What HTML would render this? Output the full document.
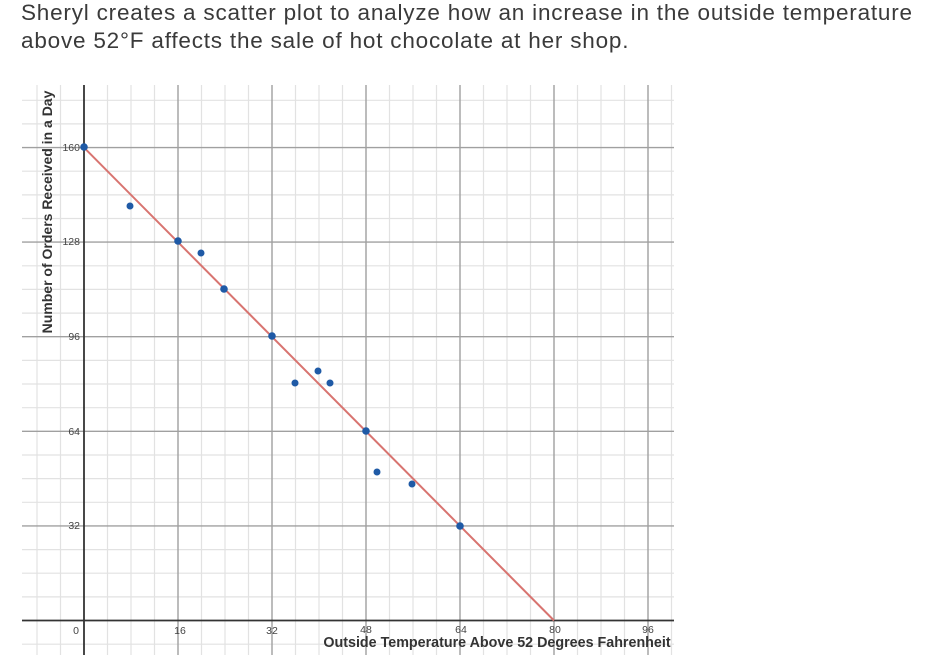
<!DOCTYPE html>
<html><head><meta charset="utf-8"><style>
body{margin:0;background:#fff;width:952px;height:658px;overflow:hidden;font-family:"Liberation Sans",sans-serif}
.t{position:absolute;left:21px;top:-1px;font-size:22.5px;color:#3a3a3a;line-height:28px;letter-spacing:0.8px}
svg{position:absolute;left:0;top:0}
</style></head><body>
<div class="t">Sheryl creates a scatter plot to analyze how an increase in the outside temperature<br>above 52°F affects the sale of hot chocolate at her shop.</div>
<svg width="952" height="658" xmlns="http://www.w3.org/2000/svg">
<g stroke="#e2e2e2" stroke-width="1.2">
<line x1="37" y1="85" x2="37" y2="655"/><line x1="60.5" y1="85" x2="60.5" y2="655"/>
<line x1="107.5" y1="85" x2="107.5" y2="655"/><line x1="131" y1="85" x2="131" y2="655"/><line x1="154.5" y1="85" x2="154.5" y2="655"/>
<line x1="201.5" y1="85" x2="201.5" y2="655"/><line x1="225" y1="85" x2="225" y2="655"/><line x1="248.5" y1="85" x2="248.5" y2="655"/>
<line x1="295.5" y1="85" x2="295.5" y2="655"/><line x1="319" y1="85" x2="319" y2="655"/><line x1="342.5" y1="85" x2="342.5" y2="655"/>
<line x1="389.5" y1="85" x2="389.5" y2="655"/><line x1="413" y1="85" x2="413" y2="655"/><line x1="436.5" y1="85" x2="436.5" y2="655"/>
<line x1="483.5" y1="85" x2="483.5" y2="655"/><line x1="507" y1="85" x2="507" y2="655"/><line x1="530.5" y1="85" x2="530.5" y2="655"/>
<line x1="577.5" y1="85" x2="577.5" y2="655"/><line x1="601" y1="85" x2="601" y2="655"/><line x1="624.5" y1="85" x2="624.5" y2="655"/>
<line x1="671.5" y1="85" x2="671.5" y2="655"/>
<line x1="22" y1="100.3" x2="674" y2="100.3"/><line x1="22" y1="123.9" x2="674" y2="123.9"/>
<line x1="22" y1="171.2" x2="674" y2="171.2"/><line x1="22" y1="194.9" x2="674" y2="194.9"/><line x1="22" y1="218.5" x2="674" y2="218.5"/>
<line x1="22" y1="265.8" x2="674" y2="265.8"/><line x1="22" y1="289.4" x2="674" y2="289.4"/><line x1="22" y1="313.1" x2="674" y2="313.1"/>
<line x1="22" y1="360.4" x2="674" y2="360.4"/><line x1="22" y1="384" x2="674" y2="384"/><line x1="22" y1="407.7" x2="674" y2="407.7"/>
<line x1="22" y1="455" x2="674" y2="455"/><line x1="22" y1="478.6" x2="674" y2="478.6"/><line x1="22" y1="502.3" x2="674" y2="502.3"/>
<line x1="22" y1="549.6" x2="674" y2="549.6"/><line x1="22" y1="573.2" x2="674" y2="573.2"/><line x1="22" y1="596.9" x2="674" y2="596.9"/>
<line x1="22" y1="644.2" x2="674" y2="644.2"/>
</g>
<g stroke="#a0a0a0" stroke-width="1.4">
<line x1="178" y1="85" x2="178" y2="655"/><line x1="272" y1="85" x2="272" y2="655"/><line x1="366" y1="85" x2="366" y2="655"/>
<line x1="460" y1="85" x2="460" y2="655"/><line x1="554" y1="85" x2="554" y2="655"/><line x1="648" y1="85" x2="648" y2="655"/>
<line x1="22" y1="147.6" x2="674" y2="147.6"/><line x1="22" y1="242.1" x2="674" y2="242.1"/><line x1="22" y1="336.7" x2="674" y2="336.7"/>
<line x1="22" y1="431.3" x2="674" y2="431.3"/><line x1="22" y1="525.9" x2="674" y2="525.9"/>
</g>
<g stroke="#333" stroke-width="1.8">
<line x1="84" y1="85" x2="84" y2="655"/><line x1="22" y1="620.5" x2="674" y2="620.5"/>
</g>
<line x1="84" y1="147.6" x2="554" y2="620.5" stroke="#d87470" stroke-width="2"/>
<g fill="#1f5aa6">
<circle cx="84" cy="147" r="3.8"/><circle cx="130" cy="206" r="3.5"/><circle cx="178" cy="241" r="3.8"/><circle cx="201" cy="253" r="3.5"/>
<circle cx="224" cy="289" r="3.8"/><circle cx="272" cy="336" r="3.8"/><circle cx="295" cy="383" r="3.5"/><circle cx="318" cy="371" r="3.5"/>
<circle cx="330" cy="383" r="3.5"/><circle cx="366" cy="431" r="3.8"/><circle cx="377" cy="472" r="3.5"/><circle cx="412" cy="484" r="3.5"/>
<circle cx="460" cy="526" r="3.8"/>
</g>
<g font-size="10.5" fill="#444" text-anchor="end">
<text x="80" y="151">160</text><text x="80" y="245">128</text><text x="80" y="340">96</text><text x="80" y="435">64</text><text x="80" y="529">32</text>
</g>
<g font-size="10.5" fill="#444" text-anchor="middle">
<text x="76" y="634">0</text><text x="180" y="634">16</text><text x="272" y="634">32</text><text x="366" y="633">48</text>
<text x="461" y="633">64</text><text x="555" y="633">80</text><text x="648" y="633">96</text>
</g>
<text x="497" y="647" font-size="14.3" font-weight="bold" fill="#333" text-anchor="middle">Outside Temperature Above 52 Degrees Fahrenheit</text>
<text transform="translate(52,212) rotate(-90)" font-size="14" font-weight="bold" fill="#333" text-anchor="middle">Number of Orders Received in a Day</text>
</svg>
</body></html>
